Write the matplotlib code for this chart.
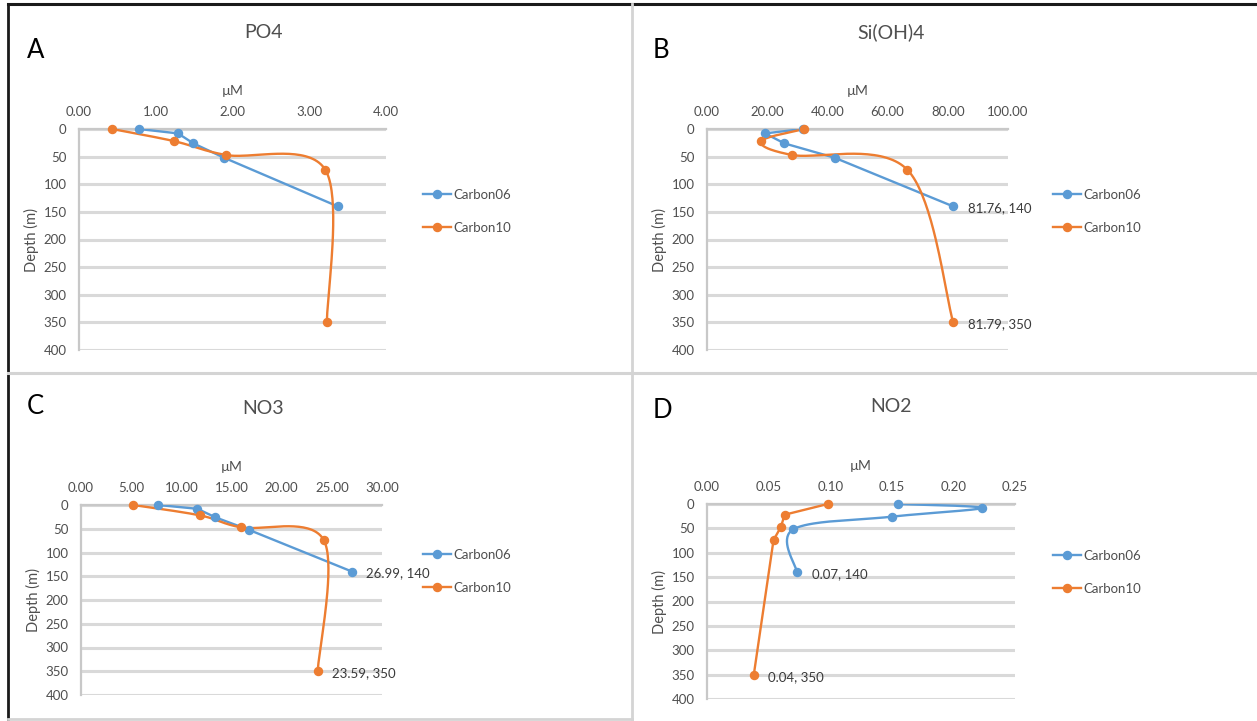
import numpy as np
import matplotlib
matplotlib.use("Agg")
import matplotlib.pyplot as plt
from matplotlib.lines import Line2D

plt.rcParams['font.family'] = ['Lato', 'DejaVu Sans']

# ---------------- data ----------------
depth_c06 = [0, 8, 26, 52, 140]
depth_c10 = [0, 22, 47, 74, 350]

po4_c06 = [0.78, 1.29, 1.49, 1.89, 3.37]
po4_c10 = [0.43, 1.24, 1.91, 3.21, 3.23]
si_c06 = [31.8, 19.3, 25.7, 42.4, 81.76]
si_c10 = [32.2, 18.0, 28.2, 66.6, 81.79]
no3_c06 = [7.7, 11.6, 13.4, 16.7, 26.99]
no3_c10 = [5.2, 11.9, 15.9, 24.2, 23.59]
no2_c06 = [0.155, 0.223, 0.150, 0.070, 0.073]
no2_c10 = [0.098, 0.063, 0.060, 0.054, 0.038]

series_names = ["Carbon06", "Carbon10"]
titles = ["PO4", "Si(OH)4", "NO3", "NO2"]
letters = ["A", "B", "C", "D"]
xmax = [4.0, 100.0, 30.0, 0.25]
xstep = [1.0, 20.0, 5.0, 0.05]
depth_ticks = list(range(0, 401, 50))

BLUE = "#5B9BD5"
ORANGE = "#ED7D31"
GREY_TXT = "#4F4F4F"

W, H = 1257, 721
fig = plt.figure(figsize=(W / 100, H / 100), dpi=100)


def fx(px):
    return px / W


def fy(py):
    return 1 - py / H


def smooth(ax, xs, ys, n=40):
    pts = ax.transData.transform(np.column_stack([xs, ys]))
    N = len(pts)
    out = [pts[0]]
    for i in range(N - 1):
        p0 = pts[i - 1] if i > 0 else pts[i]
        p1 = pts[i]
        p2 = pts[i + 1]
        p3 = pts[i + 2] if i + 2 < N else pts[i + 1]
        c1 = p1 + (p2 - p0) / 6
        c2 = p2 - (p3 - p1) / 6
        t = np.linspace(0, 1, n)[1:, None]
        seg = (1 - t) ** 3 * p1 + 3 * (1 - t) ** 2 * t * c1 + 3 * (1 - t) * t ** 2 * c2 + t ** 3 * p2
        out.extend(seg)
    return ax.transData.inverted().transform(np.array(out))


# panel geometry in pixels: (x0, x1, ytop, ybot)
panels = [
    (79, 386, 129, 350),
    (707, 1008, 129, 350),
    (81, 382, 505, 695),
    (707, 1015, 504, 699),
]
title_pos = [(263, 32), (891, 32), (263, 408), (891, 406)]
letter_pos = [(36, 51), (661, 51), (35, 407), (662, 410)]
legend_pos = [(423, 189), (1053, 189), (423, 549), (1053, 550)]

data = [
    (po4_c06, po4_c10),
    (si_c06, si_c10),
    (no3_c06, no3_c10),
    (no2_c06, no2_c10),
]
smooth_flags = [(False, True), (False, True), (False, True), (True, False)]
annotate_flags = [(False, False), (True, True), (True, True), (True, True)]
ann_fmt = ["{:.2f}", "{:.2f}", "{:.2f}", "{:.2f}"]

for k in range(4):
    x0, x1, yt, yb = panels[k]
    ax = fig.add_axes([fx(x0), fy(yb), fx(x1 - x0), (yb - yt) / H])
    ax.set_xlim(0, xmax[k])
    ax.set_ylim(400, 0)
    ax.xaxis.tick_top()
    ax.xaxis.set_label_position('top')
    ax.set_xticks(np.arange(0, xmax[k] + xstep[k] / 2, xstep[k]))
    ax.set_xticklabels([f"{v:.2f}" for v in np.arange(0, xmax[k] + xstep[k] / 2, xstep[k])])
    ax.set_yticks(depth_ticks)
    ax.set_yticklabels([str(d) for d in depth_ticks])
    ax.tick_params(axis='both', length=0, labelsize=9.5, labelcolor=GREY_TXT)
    ax.tick_params(axis='x', pad=8)
    ax.tick_params(axis='y', pad=9)
    for s in ['right', 'bottom']:
        ax.spines[s].set_visible(False)
    for s in ['top', 'left']:
        ax.spines[s].set_color('#C8C8C8')
        ax.spines[s].set_linewidth(1.6)
    ax.yaxis.grid(True, color='#D9D9D9', linewidth=2.2)
    ax.set_axisbelow(True)
    ax.set_xlabel("µM", fontsize=10, color=GREY_TXT, labelpad=8)
    ax.set_ylabel("Depth (m)", fontsize=10.5, color=GREY_TXT, labelpad=3)

    depths = [depth_c06, depth_c10]
    colors = [BLUE, ORANGE]
    handles = []
    for j in range(2):
        xs = data[k][j]
        ys = depths[j]
        if smooth_flags[k][j]:
            sp = smooth(ax, xs, ys)
            ax.plot(sp[:, 0], sp[:, 1], color=colors[j], lw=1.7, zorder=3, solid_capstyle='round')
        else:
            ax.plot(xs, ys, color=colors[j], lw=1.7, zorder=3, solid_joinstyle='round')
        ax.plot(xs, ys, 'o', color=colors[j], ms=5.8, zorder=4, clip_on=False)
        handles.append(Line2D([], [], color=colors[j], lw=1.7, marker='o', ms=5.8))
        if annotate_flags[k][j]:
            lab = ann_fmt[k].format(xs[-1]) + ", " + str(ys[-1])
            ax.annotate(lab, (xs[-1], ys[-1]), xytext=(10.5, -1.5), textcoords='offset points',
                        va='center', ha='left', fontsize=9.5, color='#3A3A3A',
                        annotation_clip=False)

    lx, ly = legend_pos[k]
    fig.legend(handles, series_names, loc='upper left', bbox_to_anchor=(fx(lx), fy(ly)),
               bbox_transform=fig.transFigure, frameon=False, fontsize=9.5,
               labelcolor=GREY_TXT, handlelength=2.1, handletextpad=0.2,
               labelspacing=1.6, borderpad=0, borderaxespad=0)

    tx, ty = title_pos[k]
    fig.text(fx(tx), fy(ty), titles[k], fontsize=14, color=GREY_TXT, ha='center', va='center')
    lx2, ly2 = letter_pos[k]
    fig.text(fx(lx2), fy(ly2), letters[k], fontsize=18.5, color='black', ha='center', va='center')

# panel frame lines
frame = [
    ((8, 1257), (4, 4), '#1a1a1a', 2.2),
    ((8, 8), (4, 721), '#1a1a1a', 2.0),
    ((632, 632), (4, 721), '#D4D4D4', 2.0),
    ((8, 1257), (373, 373), '#D4D4D4', 2.2),
    ((8, 632), (719, 719), '#D4D4D4', 2.0),
]
for (xa, xb), (ya, yb_), c, lw in frame:
    fig.add_artist(Line2D([fx(xa), fx(xb)], [fy(ya), fy(yb_)], transform=fig.transFigure,
                          color=c, lw=lw))

fig.savefig("out.png", dpi=100)
